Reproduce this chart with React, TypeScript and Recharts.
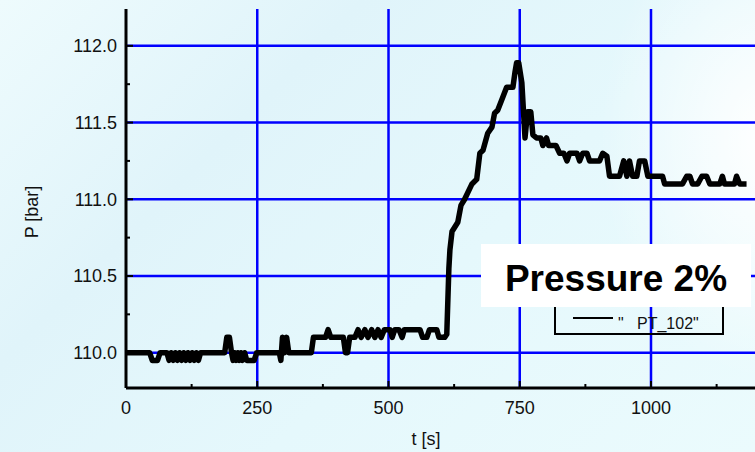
import React from "react";
import { LineChart, Line, XAxis, YAxis, CartesianGrid, Legend, Label } from "recharts";

// time [s] and pressure [bar]
const times = [
  0, 45, 50, 60, 65, 78, 82, 86, 90, 94, 98, 102, 106, 110, 114, 118, 122, 126, 130, 134, 138, 142,
  188, 192, 197, 201, 204, 207, 210, 213, 216, 219, 222, 226, 230, 244, 249,
  292, 295, 298, 302, 306, 310, 353, 357, 380, 385, 390, 414, 418, 422, 426,
  436, 442, 448, 455, 461, 468, 474, 480, 486, 492, 503, 507, 512, 520, 526, 530,
  560, 565, 573, 578, 592, 596, 607, 611, 615, 617, 621, 632, 638, 645, 659, 668,
  674, 680, 689, 697, 702, 708, 716, 725, 737, 741, 744, 748, 754, 760, 765, 771,
  775, 782, 790, 794, 801, 805, 819, 826, 834, 840, 845, 859, 864, 870, 878, 883,
  902, 908, 916, 921, 940, 948, 954, 959, 965, 973, 978, 988, 994, 1022, 1026,
  1060, 1068, 1074, 1079, 1089, 1097, 1106, 1112, 1131, 1136, 1140, 1159, 1163, 1169, 1182,
];
const pressure = [
  110.0, 110.0, 109.95, 109.95, 110.0, 110.0, 109.95, 110.0, 109.95, 110.0, 109.95, 110.0, 109.95, 110.0, 109.95, 110.0, 109.95, 110.0, 109.95, 110.0, 109.95, 110.0,
  110.0, 110.1, 110.1, 110.0, 109.95, 110.0, 109.95, 110.0, 109.95, 110.0, 109.95, 110.0, 109.95, 109.95, 110.0,
  110.0, 109.95, 110.1, 110.0, 110.1, 110.0, 110.0, 110.1, 110.1, 110.15, 110.1, 110.1, 110.0, 110.0, 110.1,
  110.1, 110.15, 110.1, 110.15, 110.1, 110.15, 110.1, 110.15, 110.1, 110.15, 110.15, 110.1, 110.15, 110.15, 110.1, 110.15,
  110.15, 110.1, 110.1, 110.15, 110.15, 110.1, 110.1, 110.12, 110.55, 110.67, 110.79, 110.85, 110.96, 111.0, 111.1, 111.13,
  111.3, 111.32, 111.43, 111.47, 111.56, 111.58, 111.65, 111.73, 111.73, 111.83, 111.89, 111.89, 111.76, 111.4, 111.57, 111.57,
  111.42, 111.4, 111.4, 111.35, 111.4, 111.35, 111.35, 111.3, 111.3, 111.25, 111.3, 111.3, 111.25, 111.3, 111.3, 111.25,
  111.25, 111.3, 111.28, 111.15, 111.15, 111.25, 111.15, 111.25, 111.15, 111.15, 111.25, 111.25, 111.15, 111.15, 111.1,
  111.1, 111.15, 111.15, 111.1, 111.1, 111.15, 111.15, 111.1, 111.1, 111.15, 111.1, 111.1, 111.15, 111.1, 111.1,
];

const xTicks = [0, 125, 250, 375, 500, 625, 750, 875, 1000, 1125];
const xGrid = [250, 500, 750, 1000];
const yTicks = [110, 110.25, 110.5, 110.75, 111, 111.25, 111.5, 111.75, 112];
const yGrid = [110, 110.5, 111, 111.5, 112];

const data = times.map((t, i) => ({ t, p: pressure[i] }));

const FONT = '"Liberation Sans", Arial, sans-serif';

const BottomTick = ({ x, y, payload }: any) => {
  const major = payload.value % 250 === 0;
  return (
    <g>
      <line x1={x} x2={x} y1={y} y2={y - (major ? 7 : 4)} stroke="#000" strokeWidth={2} />
      {major && (
        <text x={x} y={y + 26} textAnchor="middle" fontSize={18} fontFamily={FONT} fill="#111">
          {payload.value}
        </text>
      )}
    </g>
  );
};

const TopTick = ({ x, y, payload }: any) => {
  const major = payload.value % 250 === 0;
  return <line x1={x} x2={x} y1={y} y2={y + (major ? 7 : 4)} stroke="#000" strokeWidth={2} />;
};

const LeftTick = ({ x, y, payload }: any) => {
  const major = Math.abs(payload.value * 2 - Math.round(payload.value * 2)) < 1e-6;
  return (
    <g>
      <line x1={x} x2={x + (major ? 7 : 4)} y1={y} y2={y} stroke="#000" strokeWidth={2} />
      {major && (
        <text x={x - 9} y={y + 6.5} textAnchor="end" fontSize={18} fontFamily={FONT} fill="#111">
          {payload.value.toFixed(1)}
        </text>
      )}
    </g>
  );
};

const LegendBox = ({ payload }: any) => (
  <div
    style={{
      position: "relative",
      width: 166,
      height: 37,
      border: "2px solid #000",
      fontFamily: FONT,
      fontSize: 16,
      color: "#111",
    }}
  >
    {(payload || []).map((e: any) => (
      <React.Fragment key={e.value}>
        <div style={{ position: "absolute", left: 17, top: 21, width: 40, height: 2, background: e.color }} />
        <div style={{ position: "absolute", left: 62, top: 18, lineHeight: "20px", whiteSpace: "pre" }}>
          {'"   ' + e.value + '"'}
        </div>
      </React.Fragment>
    ))}
  </div>
);

export default function App() {
  return (
    <div
      style={{
        position: "fixed",
        left: 0,
        top: 0,
        width: 755,
        height: 452,
        overflow: "hidden",
        background:
          "radial-gradient(ellipse 170px 240px at 770px 140px, #ffffff 0%, rgba(255,255,255,0) 100%), linear-gradient(135deg, #eefbfd 0%, #e0f4fa 30%, #e5f8fc 60%, #ebfbfd 100%)",
      }}
    >
      <div style={{ position: "absolute", left: 0, top: 0 }}>
        <LineChart width={770} height={452} data={data} margin={{ top: 9, right: 14, bottom: 0, left: 0 }}>
          <CartesianGrid
            horizontalValues={yGrid}
            verticalValues={xGrid}
            stroke="#0000ff"
            strokeWidth={2.5}
            strokeOpacity={1}
          />
          <XAxis
            dataKey="t"
            type="number"
            domain={[0, 1200]}
            ticks={xTicks}
            interval={0}
            height={64}
            tickSize={0}
            tickMargin={0}
            tickLine={false}
            tick={<BottomTick />}
            axisLine={{ stroke: "#000", strokeWidth: 3 }}
          >
            <Label
              content={() => (
                <text x={426} y={445} textAnchor="middle" fontSize={18} fontFamily={FONT} fill="#111">
                  t [s]
                </text>
              )}
            />
          </XAxis>
          <XAxis
            xAxisId="top"
            orientation="top"
            dataKey="t"
            type="number"
            domain={[0, 1200]}
            ticks={xTicks}
            interval={0}
            height={0}
            tickSize={0}
            tickMargin={0}
            tickLine={false}
            tick={<TopTick />}
            axisLine={{ stroke: "#000", strokeWidth: 3 }}
          />
          <YAxis
            type="number"
            domain={[109.77, 112.24]}
            allowDataOverflow
            ticks={yTicks}
            interval={0}
            width={126}
            tickSize={0}
            tickMargin={0}
            tickLine={false}
            tick={<LeftTick />}
            axisLine={{ stroke: "#000", strokeWidth: 3 }}
          >
            <Label
              content={() => (
                <text
                  x={38}
                  y={212}
                  transform="rotate(-90 38 212)"
                  textAnchor="middle"
                  fontSize={18}
                  fontFamily={FONT}
                  fill="#111"
                >
                  P [bar]
                </text>
              )}
            />
          </YAxis>
          <Legend
            layout="horizontal"
            verticalAlign="middle"
            align="center"
            content={<LegendBox />}
            wrapperStyle={{ left: 554, top: 294, width: 170, height: 41 }}
          />
          <Line
            dataKey="p"
            name="PT_102"
            type="linear"
            stroke="#000"
            strokeWidth={5.5}
            strokeLinejoin="round"
            dot={false}
            activeDot={false}
            isAnimationActive={false}
          />
        </LineChart>
      </div>
      <div
        style={{
          position: "absolute",
          left: 481,
          top: 244,
          width: 270,
          height: 63,
          background: "#fff",
          zIndex: 10,
          fontFamily: FONT,
          fontWeight: "bold",
          fontSize: 37,
          color: "#000",
        }}
      >
        <div style={{ position: "absolute", top: 16, left: 0, width: "100%", textAlign: "center", lineHeight: "37px" }}>
          Pressure 2%
        </div>
      </div>
    </div>
  );
}
